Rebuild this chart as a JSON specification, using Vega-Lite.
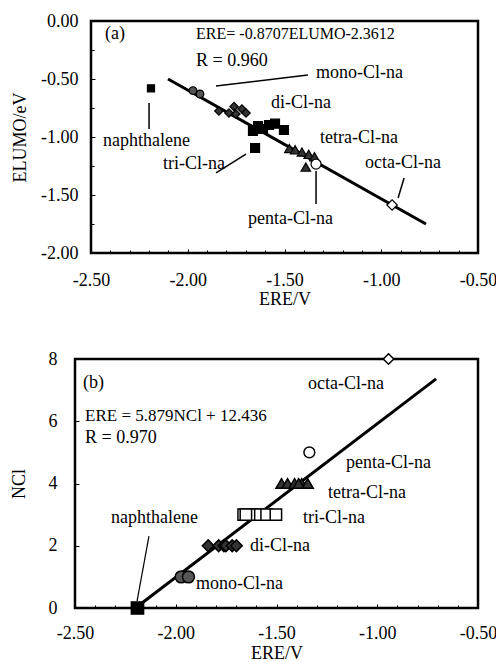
{
  "$schema": "https://vega.github.io/schema/vega-lite/v6.json",
  "padding": {"left": 10, "top": 12, "right": 5, "bottom": 0},
  "config": {
    "font": "Liberation Serif",
    "view": {"stroke": null},
    "axis": {
      "labelFont": "Liberation Serif", "labelFontSize": 18, "labelColor": "black",
      "titleFont": "Liberation Serif", "titleFontSize": 18, "titleFontWeight": "normal", "titleColor": "black",
      "domain": false, "grid": false, "tickColor": "black", "tickSize": -4, "tickWidth": 1,
      "labelFlush": false, "labelOverlap": false, "labelBound": false
    },
    "locale": {"number": {"decimal": ".", "thousands": ",", "grouping": [3], "currency": ["$", ""], "minus": "-"}}
  },
  "datasets": {
    "pts": [
      {"group": "naphthalene", "ere": -2.19, "elumo": -0.58, "n": 0},
      {"group": "mono", "ere": -1.973, "elumo": -0.600, "n": 1},
      {"group": "mono", "ere": -1.937, "elumo": -0.629, "n": 1},
      {"group": "di", "ere": -1.839, "elumo": -0.776, "n": 2},
      {"group": "di", "ere": -1.787, "elumo": -0.793, "n": 2},
      {"group": "di", "ere": -1.761, "elumo": -0.738, "n": 2},
      {"group": "di", "ere": -1.751, "elumo": -0.802, "n": 2},
      {"group": "di", "ere": -1.720, "elumo": -0.759, "n": 2},
      {"group": "di", "ere": -1.699, "elumo": -0.793, "n": 2},
      {"group": "tri", "ere": -1.663, "elumo": -0.948, "n": 3},
      {"group": "tri", "ere": -1.637, "elumo": -0.905, "n": 3},
      {"group": "tri", "ere": -1.611, "elumo": -0.931, "n": 3},
      {"group": "tri", "ere": -1.580, "elumo": -0.897, "n": 3},
      {"group": "tri", "ere": -1.549, "elumo": -0.885, "n": 3},
      {"group": "tri", "ere": -1.503, "elumo": -0.940, "n": 3},
      {"group": "tri", "ere": -1.652, "elumo": -1.095, "n": 3},
      {"group": "tetra", "ere": -1.475, "elumo": -1.100, "n": 4},
      {"group": "tetra", "ere": -1.445, "elumo": -1.110, "n": 4},
      {"group": "tetra", "ere": -1.410, "elumo": -1.130, "n": 4},
      {"group": "tetra", "ere": -1.375, "elumo": -1.150, "n": 4},
      {"group": "tetra", "ere": -1.345, "elumo": -1.170, "n": 4},
      {"group": "tetra", "ere": -1.390, "elumo": -1.260, "n": 4},
      {"group": "penta", "ere": -1.337, "elumo": -1.233, "n": 5},
      {"group": "octa", "ere": -0.944, "elumo": -1.586, "n": 8}
    ],
    "a_line": [{"ere": -2.102, "elumo": -0.50}, {"ere": -0.769, "elumo": -1.75}],
    "a_leaders": [
      {"ere": -1.854, "elumo": -0.560, "ere2": -1.379, "elumo2": -0.466},
      {"ere": -2.200, "elumo": -0.707, "ere2": -2.200, "elumo2": -0.931},
      {"ere": -1.854, "elumo": -1.310, "ere2": -1.699, "elumo2": -1.147},
      {"ere": -1.337, "elumo": -1.293, "ere2": -1.337, "elumo2": -1.578},
      {"ere": -0.913, "elumo": -1.526, "ere2": -0.882, "elumo2": -1.353}
    ],
    "a_text": [
      {"ere": -2.428, "elumo": -0.112, "label": "(a)"},
      {"ere": -1.957, "elumo": -0.345, "label": "R = 0.960"},
      {"ere": -1.337, "elumo": -0.448, "label": "mono-Cl-na"},
      {"ere": -1.570, "elumo": -0.707, "label": "di-Cl-na"},
      {"ere": -1.317, "elumo": -1.009, "label": "tetra-Cl-na"},
      {"ere": -2.438, "elumo": -1.034, "label": "naphthalene"},
      {"ere": -2.128, "elumo": -1.233, "label": "tri-Cl-na"},
      {"ere": -1.689, "elumo": -1.707, "label": "penta-Cl-na"},
      {"ere": -1.084, "elumo": -1.224, "label": "octa-Cl-na"}
    ],
    "a_eq": [{"ere": -1.957, "elumo": -0.112, "label": "ERE= -0.8707ELUMO-2.3612"}],
    "b_line": [{"ere": -2.20, "n": 0}, {"ere": -0.708, "n": 7.36}],
    "b_leaders": [{"ere": -2.133, "n": 2.31, "ere2": -2.192, "n2": 0.22}],
    "b_text": [
      {"ere": -2.460, "n": 7.23, "label": "(b)"},
      {"ere": -2.450, "n": 5.46, "label": "R = 0.970"},
      {"ere": -1.344, "n": 7.20, "label": "octa-Cl-na"},
      {"ere": -1.155, "n": 4.66, "label": "penta-Cl-na"},
      {"ere": -1.244, "n": 3.69, "label": "tetra-Cl-na"},
      {"ere": -1.368, "n": 2.89, "label": "tri-Cl-na"},
      {"ere": -2.321, "n": 2.89, "label": "naphthalene"},
      {"ere": -1.632, "n": 1.99, "label": "di-Cl-na"},
      {"ere": -1.900, "n": 0.77, "label": "mono-Cl-na"}
    ],
    "b_eq": [{"ere": -2.450, "n": 6.17, "label": "ERE = 5.879NCl + 12.436"}]
  },
  "spacing": 42,
  "resolve": {"scale": {"x": "independent", "y": "independent", "fill": "independent", "size": "independent", "shape": "independent"}},
  "vconcat": [
    {
      "width": 403,
      "height": 232,
      "resolve": {"axis": {"x": "independent", "y": "independent"}},
      "layer": [
        {
          "data": {"values": [{"ere": -2.5, "ere2": -0.5, "elumo": -2, "elumo2": 0}]},
          "mark": {"type": "rect", "fill": "transparent", "stroke": "black", "strokeWidth": 2.5},
          "encoding": {
            "x": {"field": "ere", "type": "quantitative",
              "scale": {"domain": [-2.5, -0.5], "range": [16, 403], "nice": false, "zero": false},
              "axis": {"orient": "bottom", "title": "ERE/V", "values": [-2.5, -2.0, -1.5, -1.0, -0.5], "format": ".2f",
                "labelPadding": 22, "titlePadding": 1}},
            "x2": {"field": "ere2"},
            "y": {"field": "elumo", "type": "quantitative",
              "scale": {"domain": [-2, 0], "nice": false, "zero": false},
              "axis": {"orient": "left", "title": "ELUMO/eV", "offset": -16, "values": [-2, -1.5, -1.0, -0.5, 0], "format": ".2f",
                "labelPadding": 17, "titlePadding": 11}},
            "y2": {"field": "elumo2"}
          }
        },
        {
          "data": {"name": "a_line"},
          "mark": {"type": "line", "color": "black", "strokeWidth": 3},
          "encoding": {
            "x": {"field": "ere", "type": "quantitative",
              "axis": {"orient": "bottom", "title": null, "labels": false, "tickSize": -3,
                "values": [-2.4,-2.3,-2.2,-2.1,-1.9,-1.8,-1.7,-1.6,-1.4,-1.3,-1.2,-1.1,-0.9,-0.8,-0.7,-0.6]}},
            "y": {"field": "elumo", "type": "quantitative",
              "axis": {"orient": "left", "title": null, "labels": false, "tickSize": -3, "offset": -16,
                "values": [-1.75, -1.25, -0.75, -0.25]}}
          }
        },
        {
          "data": {"name": "a_leaders"},
          "mark": {"type": "rule", "color": "black", "strokeWidth": 1.5},
          "encoding": {"x": {"field": "ere", "type": "quantitative", "axis": null}, "y": {"field": "elumo", "type": "quantitative", "axis": null},
            "x2": {"field": "ere2"}, "y2": {"field": "elumo2"}}
        },
        {
          "data": {"name": "pts"},
          "mark": {"type": "point", "filled": true, "stroke": "black", "strokeWidth": 1.2, "opacity": 1},
          "encoding": {
            "x": {"field": "ere", "type": "quantitative", "axis": null},
            "y": {"field": "elumo", "type": "quantitative", "axis": null},
            "shape": {"field": "group", "type": "nominal", "legend": null,
              "scale": {"domain": ["naphthalene","mono","di","tri","tetra","penta","octa"], "range": ["square","circle","diamond","square","triangle-up","circle","diamond"]}},
            "fill": {"field": "group", "type": "nominal", "legend": null,
              "scale": {"domain": ["naphthalene","mono","di","tri","tetra","penta","octa"], "range": ["black","#555555","#333333","black","#333333","white","white"]}},
            "size": {"field": "group", "type": "ordinal", "legend": null,
              "scale": {"domain": ["naphthalene","mono","di","tri","tetra","penta","octa"], "range": [50,110,120,140,140,130,80]}}
          }
        },
        {
          "data": {"name": "a_text"},
          "mark": {"type": "text", "align": "left", "baseline": "middle", "font": "Liberation Serif", "fontSize": 18, "color": "black"},
          "encoding": {"x": {"field": "ere", "type": "quantitative", "axis": null}, "y": {"field": "elumo", "type": "quantitative", "axis": null}, "text": {"field": "label"}}
        },
        {
          "data": {"name": "a_eq"},
          "mark": {"type": "text", "align": "left", "baseline": "middle", "font": "Liberation Serif", "fontSize": 16, "color": "black"},
          "encoding": {"x": {"field": "ere", "type": "quantitative", "axis": null}, "y": {"field": "elumo", "type": "quantitative", "axis": null}, "text": {"field": "label"}}
        }
      ]
    },
    {
      "width": 403,
      "height": 249,
      "resolve": {"axis": {"x": "independent", "y": "independent"}},
      "layer": [
        {
          "data": {"values": [{"ere": -2.5, "ere2": -0.5, "n": 0, "n2": 8}]},
          "mark": {"type": "rect", "fill": "transparent", "stroke": "black", "strokeWidth": 2.5},
          "encoding": {
            "x": {"field": "ere", "type": "quantitative",
              "scale": {"domain": [-2.5, -0.5], "nice": false, "zero": false},
              "axis": {"orient": "bottom", "title": "ERE/V", "values": [-2.5, -2.0, -1.5, -1.0, -0.5], "format": ".2f",
                "labelPadding": 20, "titlePadding": 2}},
            "x2": {"field": "ere2"},
            "y": {"field": "n", "type": "quantitative",
              "scale": {"domain": [0, 8], "nice": false, "zero": false},
              "axis": {"orient": "left", "title": "NCl", "values": [0, 2, 4, 6, 8], "format": "d", "labelPadding": 22, "titlePadding": 20}},
            "y2": {"field": "n2"}
          }
        },
        {
          "data": {"name": "b_line"},
          "mark": {"type": "line", "color": "black", "strokeWidth": 3},
          "encoding": {
            "x": {"field": "ere", "type": "quantitative",
              "axis": {"orient": "bottom", "title": null, "labels": false, "tickSize": -3,
                "values": [-2.4,-2.3,-2.2,-2.1,-1.9,-1.8,-1.7,-1.6,-1.4,-1.3,-1.2,-1.1,-0.9,-0.8,-0.7,-0.6]}},
            "y": {"field": "n", "type": "quantitative", "axis": null}
          }
        },
        {
          "data": {"name": "b_leaders"},
          "mark": {"type": "rule", "color": "black", "strokeWidth": 1.2},
          "encoding": {"x": {"field": "ere", "type": "quantitative", "axis": null}, "y": {"field": "n", "type": "quantitative", "axis": null},
            "x2": {"field": "ere2"}, "y2": {"field": "n2"}}
        },
        {
          "data": {"name": "pts"},
          "mark": {"type": "point", "filled": true, "stroke": "black", "strokeWidth": 1.5, "opacity": 1},
          "encoding": {
            "x": {"field": "ere", "type": "quantitative", "axis": null},
            "y": {"field": "n", "type": "quantitative", "axis": null},
            "shape": {"field": "group", "type": "nominal", "legend": null,
              "scale": {"domain": ["naphthalene","mono","di","tri","tetra","penta","octa"], "range": ["square","circle","diamond","square","triangle-up","circle","diamond"]}},
            "fill": {"field": "group", "type": "nominal", "legend": null,
              "scale": {"domain": ["naphthalene","mono","di","tri","tetra","penta","octa"], "range": ["black","#555555","#333333","white","#333333","white","white"]}},
            "size": {"field": "group", "type": "ordinal", "legend": null,
              "scale": {"domain": ["naphthalene","mono","di","tri","tetra","penta","octa"], "range": [150,110,120,110,140,100,80]}}
          }
        },
        {
          "data": {"name": "b_text"},
          "mark": {"type": "text", "align": "left", "baseline": "middle", "font": "Liberation Serif", "fontSize": 18, "color": "black"},
          "encoding": {"x": {"field": "ere", "type": "quantitative", "axis": null}, "y": {"field": "n", "type": "quantitative", "axis": null}, "text": {"field": "label"}}
        },
        {
          "data": {"name": "b_eq"},
          "mark": {"type": "text", "align": "left", "baseline": "middle", "font": "Liberation Serif", "fontSize": 17, "color": "black"},
          "encoding": {"x": {"field": "ere", "type": "quantitative", "axis": null}, "y": {"field": "n", "type": "quantitative", "axis": null}, "text": {"field": "label"}}
        }
      ]
    }
  ]
}
